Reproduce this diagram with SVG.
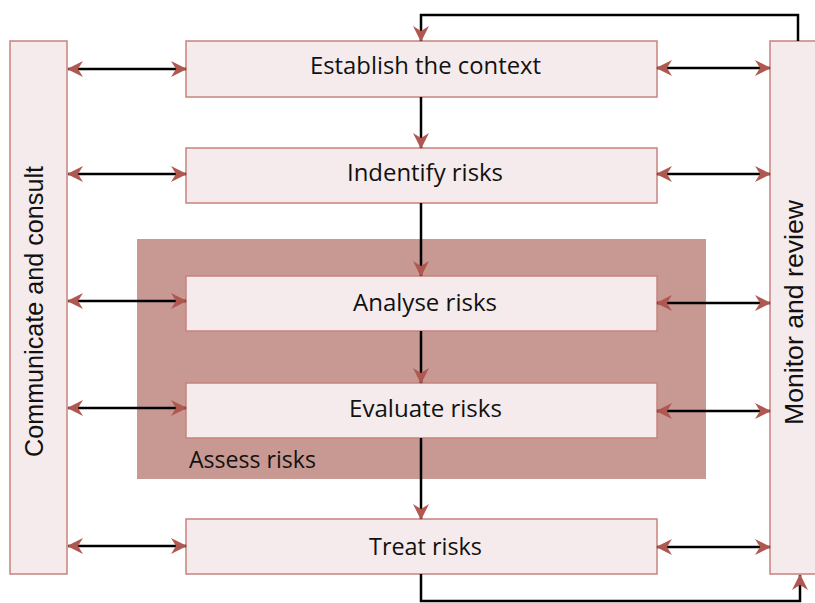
<svg xmlns="http://www.w3.org/2000/svg" width="815" height="603" viewBox="0 0 815 603">
<style>
.box{fill:#f5ebec;stroke:#c7837e;stroke-width:1.5}
.lbl{font-family:"Open Sans","Noto Sans",sans-serif;font-size:24px;fill:#111;text-anchor:middle}
.side{font-family:"Liberation Sans",Arial,sans-serif;font-size:25px;fill:#111;text-anchor:middle}
.con{fill:none;stroke:#000;stroke-width:2.5}
</style>
<defs>
<marker id="ah" viewBox="0 0 16 16" refX="15" refY="8" markerWidth="16" markerHeight="16" markerUnits="userSpaceOnUse" orient="auto-start-reverse">
<path d="M0,0 L16,8 L0,16 L5,8 Z" fill="#b0574f"/>
</marker>
</defs>
<rect width="815" height="603" fill="#fff"/>
<g id="assess">
<rect x="137" y="239" width="569" height="240" fill="#c89893"/>
<text x="189" y="468" font-family="'Open Sans','Noto Sans',sans-serif" font-size="23" fill="#111" textLength="127" lengthAdjust="spacingAndGlyphs">Assess risks</text>
</g>
<g id="communicate">
<rect class="box" x="10" y="41" width="57" height="533"/>
<text class="side" transform="translate(43,311.5) rotate(-90)" textLength="291" lengthAdjust="spacingAndGlyphs">Communicate and consult</text>
</g>
<g id="monitor">
<rect class="box" x="770" y="41" width="60" height="533"/>
<text class="side" transform="translate(803,312.5) rotate(-90)" textLength="225" lengthAdjust="spacingAndGlyphs">Monitor and review</text>
</g>
<g id="context">
<rect class="box" x="186" y="41" width="471" height="56"/>
<text class="lbl" x="425.5" y="74" textLength="231" lengthAdjust="spacingAndGlyphs">Establish the context</text>
</g>
<g id="identify">
<rect class="box" x="186" y="148" width="471" height="55"/>
<text class="lbl" x="425" y="181" textLength="156" lengthAdjust="spacingAndGlyphs">Indentify risks</text>
</g>
<g id="analyse">
<rect class="box" x="186" y="276" width="471" height="55"/>
<text class="lbl" x="425" y="311" textLength="144" lengthAdjust="spacingAndGlyphs">Analyse risks</text>
</g>
<g id="evaluate">
<rect class="box" x="186" y="383" width="471" height="55"/>
<text class="lbl" x="425.5" y="417" textLength="153" lengthAdjust="spacingAndGlyphs">Evaluate risks</text>
</g>
<g id="treat">
<rect class="box" x="186" y="519" width="471" height="55"/>
<text class="lbl" x="425.5" y="555" textLength="113" lengthAdjust="spacingAndGlyphs">Treat risks</text>
</g>
<g id="connectors">
<path class="con" d="M798,41 V15 H421 V41" marker-end="url(#ah)"/>
<path class="con" d="M421,97 V148" marker-end="url(#ah)"/>
<path class="con" d="M421,203 V276" marker-end="url(#ah)"/>
<path class="con" d="M421,331 V383" marker-end="url(#ah)"/>
<path class="con" d="M421,438 V519" marker-end="url(#ah)"/>
<path class="con" d="M421,574 V601 H800 V575" marker-end="url(#ah)"/>
<path class="con" d="M68,69 H186" marker-start="url(#ah)" marker-end="url(#ah)"/>
<path class="con" d="M68,174 H186" marker-start="url(#ah)" marker-end="url(#ah)"/>
<path class="con" d="M68,301 H186" marker-start="url(#ah)" marker-end="url(#ah)"/>
<path class="con" d="M68,408 H186" marker-start="url(#ah)" marker-end="url(#ah)"/>
<path class="con" d="M68,546 H186" marker-start="url(#ah)" marker-end="url(#ah)"/>
<path class="con" d="M657,68 H770" marker-start="url(#ah)" marker-end="url(#ah)"/>
<path class="con" d="M657,174 H770" marker-start="url(#ah)" marker-end="url(#ah)"/>
<path class="con" d="M657,303 H770" marker-start="url(#ah)" marker-end="url(#ah)"/>
<path class="con" d="M657,411 H770" marker-start="url(#ah)" marker-end="url(#ah)"/>
<path class="con" d="M657,547 H770" marker-start="url(#ah)" marker-end="url(#ah)"/>
</g>
</svg>
